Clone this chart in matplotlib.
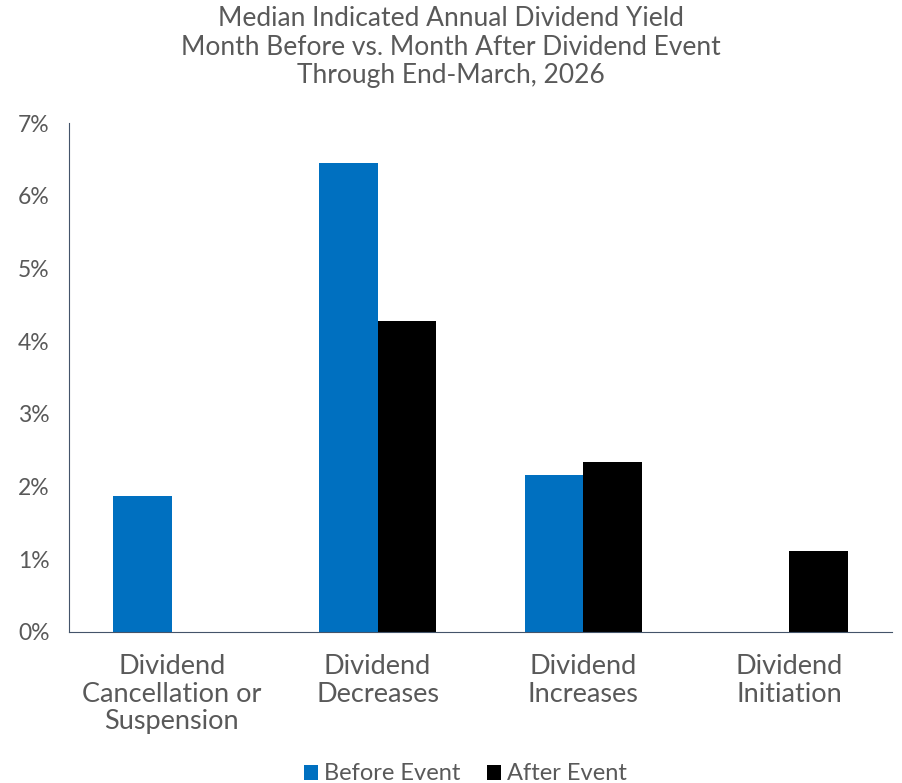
import numpy as np
import matplotlib.pyplot as plt
from matplotlib.ticker import FuncFormatter

plt.rcParams['font.family'] = ['Lato', 'DejaVu Sans']

categories = ["Dividend\nCancellation or\nSuspension", "Dividend\nDecreases",
              "Dividend\nIncreases", "Dividend\nInitiation"]
before_event = [1.87, 6.45, 2.16, 0.0]
after_event = [0.0, 4.28, 2.34, 1.11]

grey = "#595959"
axis_col = "#44546a"

fig = plt.figure(figsize=(9.02, 7.83), dpi=100)
ax = fig.add_axes([69 / 902, 1 - 632 / 783, (892 - 69) / 902, (632 - 123) / 783])

x = np.arange(len(categories))
w = 0.286
ax.bar(x - w / 2, before_event, w, color="#0070c0", label="Before Event")
ax.bar(x + w / 2, after_event, w, color="#000000", label="After Event")

ax.set_xlim(-0.5, 3.5)
ax.set_ylim(0, 7)
ax.set_yticks(range(0, 8))
ax.yaxis.set_major_formatter(FuncFormatter(lambda v, p: f"{v:.0f}%"))
ax.set_xticks(x)
ax.set_xticklabels(categories, fontsize=19.5, color=grey, linespacing=1.12)
ax.tick_params(axis="y", labelsize=16.5, labelcolor=grey, length=0, pad=14)
ax.tick_params(axis="x", length=0, pad=16)

for s in ["top", "right"]:
    ax.spines[s].set_visible(False)
ax.spines["left"].set_color(axis_col)
ax.spines["bottom"].set_color(axis_col)

fig.suptitle("Median Indicated Annual Dividend Yield\nMonth Before vs. Month After Dividend Event\nThrough End-March, 2026",
             y=0.992, fontsize=19, color=grey, linespacing=1.17)

fig.legend(loc="lower center", bbox_to_anchor=(0.516, -0.029), ncol=2, frameon=False,
           fontsize=17, labelcolor=grey, handlelength=0.6, handleheight=0.6,
           handletextpad=0.25, columnspacing=1.1)

fig.savefig("out.png", dpi=100)
